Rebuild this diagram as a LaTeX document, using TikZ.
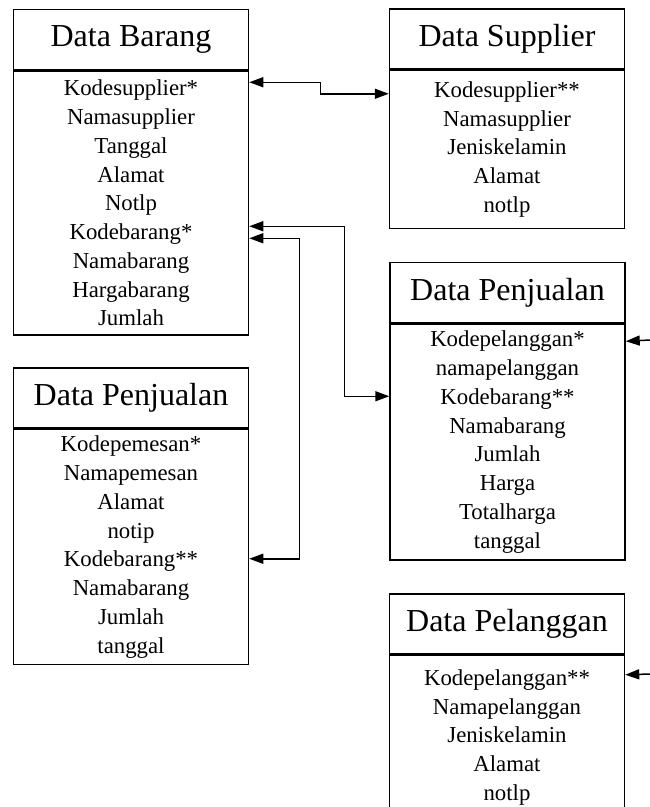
\documentclass[tikz,border=0pt]{standalone}
\usepackage{fontspec}
\setmainfont{Liberation Serif}
\usetikzlibrary{arrows.meta,positioning,calc}

\begin{document}
\begin{tikzpicture}[x=1pt,y=-1pt]
\tikzset{
    judul/.style={rectangle,draw,line width=1.5pt,minimum width=235pt,minimum height=60pt,inner sep=0pt,font=\fontsize{32pt}{36pt}\selectfont},
    isi/.style={rectangle,draw,line width=1.5pt,minimum width=235pt,inner sep=0pt,align=center,font=\fontsize{22.8pt}{28.75pt}\selectfont},
    relasi/.style={line width=1.5pt,{Triangle[length=14pt,width=10pt]}-{Triangle[length=14pt,width=10pt]}},
    masuk/.style={line width=1.5pt,-{Triangle[length=14pt,width=10pt]}}
}
\useasboundingbox (0,0) rectangle (650,807);
  % tabel
\node[judul] (barang) at (131,39.5) {Data Barang};
\node[isi,minimum height=264pt,below=0pt of barang] (barangisi)
  {Kodesupplier*\\Namasupplier\\Tanggal\\Alamat\\Notlp\\Kodebarang*\\Namabarang\\Hargabarang\\Jumlah};
\node[judul] (supplier) at (507,39) {Data Supplier};
\node[isi,minimum height=158pt,below=0pt of supplier] (supplierisi)
  {Kodesupplier**\\Namasupplier\\Jeniskelamin\\Alamat\\notlp};
\node[judul] (penjualan) at (507.5,292.5) {Data Penjualan};
\node[isi,minimum height=236pt,below=0pt of penjualan] (penjualanisi)
  {Kodepelanggan*\\namapelanggan\\Kodebarang**\\Namabarang\\Jumlah\\Harga\\Totalharga\\tanggal};
\node[judul] (pemesanan) at (131,398) {Data Penjualan};
\node[isi,minimum height=235pt,below=0pt of pemesanan] (pemesananisi)
  {Kodepemesan*\\Namapemesan\\Alamat\\notip\\Kodebarang**\\Namabarang\\Jumlah\\tanggal};
\node[judul] (pelanggan) at (507,624) {Data Pelanggan};
\node[isi,minimum height=164pt,below=0pt of pelanggan] (pelangganisi)
  {Kodepelanggan**\\Namapelanggan\\Jeniskelamin\\Alamat\\notlp};
\coordinate (ujungA) at (650,340);
\coordinate (ujungB) at (650,674);
% relasi
\draw[relasi] ([yshift=-12pt]barangisi.north east) -- ++(71,0) |- ([yshift=-24pt]supplierisi.north west);
\draw[relasi] ([yshift=-156pt]barangisi.north east) -- ++(95,0) |- ([yshift=-73pt]penjualanisi.north west);
\draw[relasi] ([yshift=-168pt]barangisi.north east) -- ++(50,0) |- ([yshift=-130pt]pemesananisi.north east);
\draw[masuk] (ujungA) -- ([yshift=-18pt]penjualanisi.north east);
\draw[masuk] (ujungB) -- ([yshift=-20pt]pelangganisi.north east);
\end{tikzpicture}
\end{document}
